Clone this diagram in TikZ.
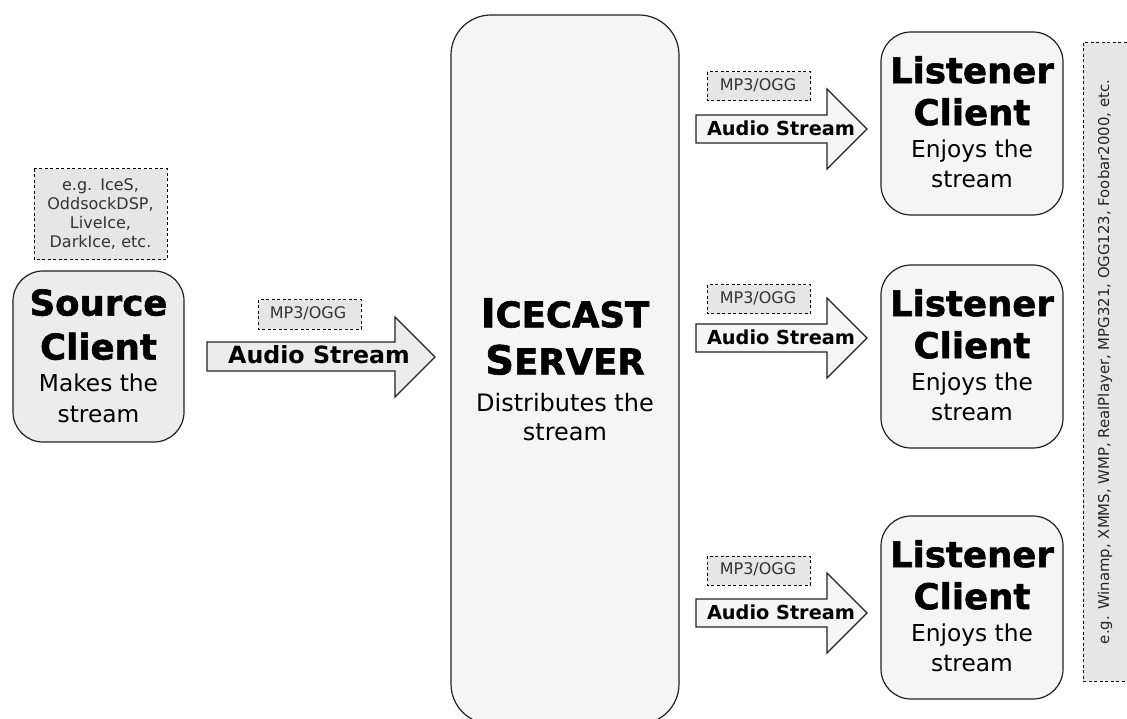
\documentclass[tikz,border=0pt]{standalone}
\usepackage{fontspec}
\setmainfont{DejaVu Sans}
\usetikzlibrary{calc}
\definecolor{srcfill}{HTML}{ECECEC}
\definecolor{lisfill}{HTML}{F5F5F5}
\definecolor{notefill}{HTML}{E6E6E6}
\definecolor{edge}{HTML}{222222}
\newcommand{\fsz}[1]{\fontsize{#1}{#1}\selectfont}
\newcommand{\ttl}[1]{{\fontsize{35.5}{36}\selectfont\bfseries\addfontfeature{FakeBold=1.6}#1}}
\newcommand{\subt}[1]{{\fontsize{23.3}{24}\selectfont #1}}
\newcommand{\smc}[2]{{\fontsize{40}{41}\selectfont\bfseries\addfontfeature{FakeBold=1.6}#1\fontsize{35.5}{36}\selectfont #2}}
\tikzset{
  x=1pt,y=-1pt,
  clientbox/.style={draw=edge,line width=1.2pt,rounded corners=30pt},
  notebox/.style={draw=black,line width=1pt,dash pattern=on 3pt off 2.5pt,fill=notefill},
  arrowshape/.style={draw=edge,line width=1.1pt,fill=#1,line join=miter},
  notetext/.style={font=\fsz{16},text=black!80,align=center,inner sep=0pt},
  streamtext/.style={font=\fsz{19.3}\bfseries,inner sep=0pt},
  cliententry/.style={align=center,inner sep=0pt,anchor=north,execute at begin node={\baselineskip=30pt\lineskiplimit=-100pt}},
}
\begin{document}
\begin{tikzpicture}
\useasboundingbox (0,0) rectangle (1127,719);
\begin{scope}
\clip (0,0) rectangle (1127,719);
\draw[clientbox,fill=lisfill,rounded corners=40pt] (451,15) rectangle (679,724);
\draw[notebox] (1083,43) rectangle (1135,681);
\end{scope}
\node[rotate=90,notetext,font=\fsz{14.9},text=black!85] (sidenote) at (1105,362) {e.g. Winamp, XMMS, WMP, RealPlayer, MPG321, OGG123, Foobar2000, etc.};
\node[cliententry] (server) at (565,298) {\smc{I}{CECAST}\\[17pt]\smc{S}{ERVER}\\[7pt]{\fontsize{24}{25}\selectfont Distributes the}\\[-1pt]{\fontsize{24}{25}\selectfont stream}};
% source
\draw[notebox] (34,169) rectangle (167,260);
\node[notetext,text width=133pt,execute at begin node={\baselineskip=19pt}] (srcnote) at (100.5,214) {e.g. IceS,\\OddsockDSP,\\LiveIce,\\DarkIce, etc.};
\draw[clientbox,fill=srcfill] (13,271) rectangle (184,442);
\node[cliententry] (src) at (98.5,289) {\ttl{Source}\\[14pt]\ttl{Client}\\[2pt]\subt{Makes the}\\[1pt]\subt{stream}};
% source arrow
\draw[arrowshape=srcfill] (207,342) -- (395,342) -- (395,317) -- (435,357) -- (395,397) -- (395,371) -- (207,371) -- cycle;
\node[streamtext,font=\fsz{23.7}\bfseries] (srcstream) at (319,355) {Audio Stream};
\draw[notebox] (258,300) rectangle (361,329);
\node[notetext] (srcfmt) at (308,313) {MP3/OGG};
% listeners
\foreach \i/\top/\arrowy/\fmty in {1/32/129/72,2/265/338/285,3/516/613/556}{
  \draw[clientbox,fill=lisfill] (881,\top) rectangle (1063,\top+183);
  \node[cliententry] (lis\i) at (972,\top+24) {\ttl{Listener}\\[12pt]\ttl{Client}\\[2pt]\subt{Enjoys the}\\\subt{stream}};
  \draw[arrowshape=lisfill] (696,\arrowy-14) -- (827,\arrowy-14) -- (827,\arrowy-40) -- (867,\arrowy) -- (827,\arrowy+40) -- (827,\arrowy+14) -- (696,\arrowy+14) -- cycle;
  \node[streamtext] (st\i) at (781,\arrowy-1) {Audio Stream};
  \draw[notebox] (707,\fmty) rectangle (810,\fmty+29);
  \node[notetext] (fmt\i) at (758,\fmty+13) {MP3/OGG};
}
\end{tikzpicture}
\end{document}
